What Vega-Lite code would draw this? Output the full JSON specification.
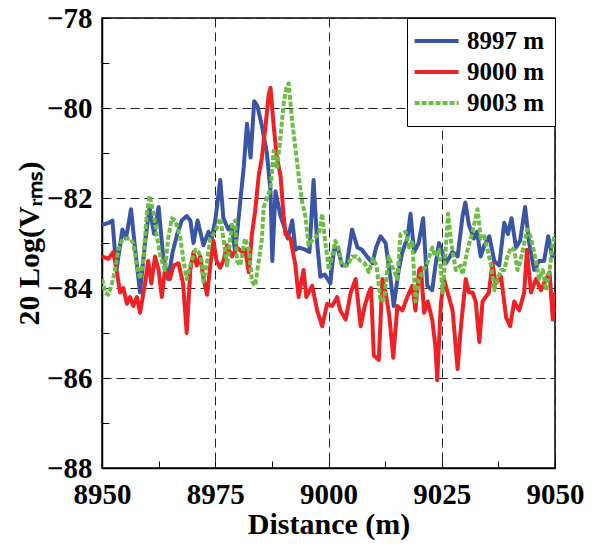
{
  "$schema": "https://vega.github.io/schema/vega-lite/v6.json",
  "width": 453,
  "height": 450,
  "autosize": {"type": "none"},
  "padding": {"left": 102, "top": 18, "right": 51, "bottom": 80},
  "background": "white",
  "config": {
    "font": "Liberation Serif",
    "view": {"stroke": "black", "strokeWidth": 1.5},
    "axis": {
      "labelFont": "Liberation Serif", "labelFontSize": 29, "labelFontWeight": "bold", "labelColor": "black",
      "titleFont": "Liberation Serif", "titleFontSize": 30, "titleFontWeight": "bold", "titleColor": "black",
      "domainColor": "black", "domainWidth": 1.5, "tickColor": "black", "tickWidth": 1, "tickSize": -7,
      "gridColor": "#222", "gridDash": [9, 5], "gridWidth": 1
    },
    "legend": {
      "orient": "top-right", "offset": 0, "title": null, "strokeColor": "black", "fillColor": "white",
      "padding": 10, "labelFont": "Liberation Serif", "labelFontSize": 25, "labelFontWeight": "bold", "labelColor": "black",
      "symbolType": "M-1.4,0H2.6", "symbolSize": 484, "symbolStrokeWidth": 4, "rowPadding": 5, "labelOffset": 24
    }
  },
  "data": {"values": [
    {"s":"8997 m","d":8950,"v":-82.6},{"s":"8997 m","d":8951.5,"v":-82.55},{"s":"8997 m","d":8952.3,"v":-82.5},{"s":"8997 m","d":8953.2,"v":-83.6},{"s":"8997 m","d":8954.5,"v":-82.7},{"s":"8997 m","d":8955.3,"v":-82.9},{"s":"8997 m","d":8956.4,"v":-82.25},{"s":"8997 m","d":8957.5,"v":-83.3},{"s":"8997 m","d":8958.4,"v":-84.1},{"s":"8997 m","d":8959.5,"v":-83.0},{"s":"8997 m","d":8960.5,"v":-82.2},{"s":"8997 m","d":8961.5,"v":-82.8},{"s":"8997 m","d":8962.5,"v":-82.2},{"s":"8997 m","d":8963.5,"v":-83.3},{"s":"8997 m","d":8964.6,"v":-83.8},{"s":"8997 m","d":8965.6,"v":-83.2},{"s":"8997 m","d":8966.6,"v":-82.8},{"s":"8997 m","d":8967.6,"v":-82.5},{"s":"8997 m","d":8968.7,"v":-82.4},{"s":"8997 m","d":8969.5,"v":-82.5},{"s":"8997 m","d":8970.2,"v":-83.0},{"s":"8997 m","d":8971.1,"v":-82.5},{"s":"8997 m","d":8972.4,"v":-83.05},{"s":"8997 m","d":8973.5,"v":-82.75},{"s":"8997 m","d":8974.2,"v":-82.9},{"s":"8997 m","d":8975,"v":-82.5},{"s":"8997 m","d":8976.1,"v":-81.6},{"s":"8997 m","d":8976.8,"v":-82.45},{"s":"8997 m","d":8977.9,"v":-82.7},{"s":"8997 m","d":8978.6,"v":-82.6},{"s":"8997 m","d":8979.4,"v":-83.2},{"s":"8997 m","d":8980.5,"v":-82.1},{"s":"8997 m","d":8981.3,"v":-81.3},{"s":"8997 m","d":8982,"v":-80.35},{"s":"8997 m","d":8982.8,"v":-81.1},{"s":"8997 m","d":8983.6,"v":-79.85},{"s":"8997 m","d":8984.3,"v":-79.95},{"s":"8997 m","d":8985.3,"v":-80.4},{"s":"8997 m","d":8986.4,"v":-81.0},{"s":"8997 m","d":8987.2,"v":-81.85},{"s":"8997 m","d":8987.6,"v":-83.4},{"s":"8997 m","d":8988.3,"v":-81.85},{"s":"8997 m","d":8989.4,"v":-82.4},{"s":"8997 m","d":8990.1,"v":-82.6},{"s":"8997 m","d":8991,"v":-82.9},{"s":"8997 m","d":8992,"v":-82.5},{"s":"8997 m","d":8992.7,"v":-83.15},{"s":"8997 m","d":8993.5,"v":-83.1},{"s":"8997 m","d":8994.9,"v":-83.15},{"s":"8997 m","d":8995.8,"v":-83.2},{"s":"8997 m","d":8996.7,"v":-81.6},{"s":"8997 m","d":8997.5,"v":-83.0},{"s":"8997 m","d":8998.2,"v":-83.75},{"s":"8997 m","d":8999.2,"v":-83.7},{"s":"8997 m","d":9000.4,"v":-83.9},{"s":"8997 m","d":9001.2,"v":-83.15},{"s":"8997 m","d":9002,"v":-83.1},{"s":"8997 m","d":9003,"v":-83.5},{"s":"8997 m","d":9004,"v":-83.5},{"s":"8997 m","d":9005.2,"v":-82.7},{"s":"8997 m","d":9006.4,"v":-83.1},{"s":"8997 m","d":9007.4,"v":-83.15},{"s":"8997 m","d":9008.5,"v":-83.3},{"s":"8997 m","d":9009.7,"v":-83.45},{"s":"8997 m","d":9010.5,"v":-83.1},{"s":"8997 m","d":9011.5,"v":-82.85},{"s":"8997 m","d":9012.6,"v":-83.0},{"s":"8997 m","d":9013.7,"v":-83.8},{"s":"8997 m","d":9014.4,"v":-84.4},{"s":"8997 m","d":9015.5,"v":-83.6},{"s":"8997 m","d":9016.3,"v":-83.2},{"s":"8997 m","d":9017.4,"v":-82.9},{"s":"8997 m","d":9018.1,"v":-82.35},{"s":"8997 m","d":9018.9,"v":-83.2},{"s":"8997 m","d":9019.9,"v":-83.0},{"s":"8997 m","d":9020.9,"v":-82.45},{"s":"8997 m","d":9021.8,"v":-83.95},{"s":"8997 m","d":9022.9,"v":-84.05},{"s":"8997 m","d":9023.6,"v":-83.5},{"s":"8997 m","d":9024.4,"v":-83.0},{"s":"8997 m","d":9025.1,"v":-83.2},{"s":"8997 m","d":9025.9,"v":-83.45},{"s":"8997 m","d":9027.4,"v":-83.2},{"s":"8997 m","d":9028.5,"v":-83.3},{"s":"8997 m","d":9029.6,"v":-82.4},{"s":"8997 m","d":9030.2,"v":-82.1},{"s":"8997 m","d":9031,"v":-82.6},{"s":"8997 m","d":9032.1,"v":-82.9},{"s":"8997 m","d":9032.8,"v":-82.75},{"s":"8997 m","d":9033.6,"v":-83.3},{"s":"8997 m","d":9034.4,"v":-83.05},{"s":"8997 m","d":9035.5,"v":-82.85},{"s":"8997 m","d":9036.6,"v":-83.4},{"s":"8997 m","d":9037.7,"v":-83.5},{"s":"8997 m","d":9038.8,"v":-82.55},{"s":"8997 m","d":9039.6,"v":-82.8},{"s":"8997 m","d":9040.4,"v":-82.45},{"s":"8997 m","d":9041.4,"v":-83.1},{"s":"8997 m","d":9042.3,"v":-82.95},{"s":"8997 m","d":9043.4,"v":-82.2},{"s":"8997 m","d":9044.3,"v":-83.0},{"s":"8997 m","d":9045.4,"v":-83.6},{"s":"8997 m","d":9046.5,"v":-83.4},{"s":"8997 m","d":9047.6,"v":-83.4},{"s":"8997 m","d":9048.5,"v":-82.85},{"s":"8997 m","d":9049.4,"v":-83.3},{"s":"8997 m","d":9050,"v":-83.25},

    {"s":"9000 m","d":8950,"v":-83.3},{"s":"9000 m","d":8951.4,"v":-83.35},{"s":"9000 m","d":8952.5,"v":-83.2},{"s":"9000 m","d":8953.2,"v":-83.6},{"s":"9000 m","d":8954,"v":-84.1},{"s":"9000 m","d":8954.7,"v":-84.0},{"s":"9000 m","d":8955.5,"v":-84.35},{"s":"9000 m","d":8956.2,"v":-84.2},{"s":"9000 m","d":8956.9,"v":-84.4},{"s":"9000 m","d":8957.7,"v":-84.2},{"s":"9000 m","d":8958.4,"v":-84.55},{"s":"9000 m","d":8959.5,"v":-83.9},{"s":"9000 m","d":8960.2,"v":-83.4},{"s":"9000 m","d":8960.9,"v":-83.9},{"s":"9000 m","d":8961.7,"v":-83.3},{"s":"9000 m","d":8962.5,"v":-83.6},{"s":"9000 m","d":8963.2,"v":-84.2},{"s":"9000 m","d":8963.9,"v":-83.6},{"s":"9000 m","d":8965,"v":-83.8},{"s":"9000 m","d":8965.8,"v":-83.5},{"s":"9000 m","d":8966.9,"v":-83.45},{"s":"9000 m","d":8967.9,"v":-83.9},{"s":"9000 m","d":8968.7,"v":-85.0},{"s":"9000 m","d":8969.5,"v":-83.6},{"s":"9000 m","d":8970.2,"v":-83.2},{"s":"9000 m","d":8970.9,"v":-83.5},{"s":"9000 m","d":8971.7,"v":-83.3},{"s":"9000 m","d":8972.4,"v":-83.8},{"s":"9000 m","d":8973.2,"v":-84.15},{"s":"9000 m","d":8973.9,"v":-83.5},{"s":"9000 m","d":8974.6,"v":-82.95},{"s":"9000 m","d":8975.3,"v":-83.4},{"s":"9000 m","d":8976.1,"v":-83.55},{"s":"9000 m","d":8976.8,"v":-83.4},{"s":"9000 m","d":8977.6,"v":-83.05},{"s":"9000 m","d":8978.7,"v":-83.3},{"s":"9000 m","d":8979.8,"v":-83.1},{"s":"9000 m","d":8980.9,"v":-83.2},{"s":"9000 m","d":8981.6,"v":-83.15},{"s":"9000 m","d":8982.4,"v":-83.65},{"s":"9000 m","d":8983.1,"v":-82.8},{"s":"9000 m","d":8983.8,"v":-82.3},{"s":"9000 m","d":8984.6,"v":-81.5},{"s":"9000 m","d":8985.3,"v":-81.1},{"s":"9000 m","d":8986.1,"v":-80.4},{"s":"9000 m","d":8986.8,"v":-79.7},{"s":"9000 m","d":8987.2,"v":-79.55},{"s":"9000 m","d":8987.9,"v":-80.4},{"s":"9000 m","d":8988.6,"v":-81.1},{"s":"9000 m","d":8989.4,"v":-81.5},{"s":"9000 m","d":8990.1,"v":-82.4},{"s":"9000 m","d":8990.5,"v":-82.8},{"s":"9000 m","d":8991.6,"v":-82.9},{"s":"9000 m","d":8992.7,"v":-83.5},{"s":"9000 m","d":8993.4,"v":-84.2},{"s":"9000 m","d":8994.5,"v":-83.6},{"s":"9000 m","d":8995.1,"v":-84.2},{"s":"9000 m","d":8996.4,"v":-83.95},{"s":"9000 m","d":8997.5,"v":-84.5},{"s":"9000 m","d":8998.6,"v":-84.85},{"s":"9000 m","d":8999.7,"v":-84.35},{"s":"9000 m","d":9000.8,"v":-84.4},{"s":"9000 m","d":9001.9,"v":-84.2},{"s":"9000 m","d":9002.6,"v":-84.5},{"s":"9000 m","d":9003.8,"v":-84.7},{"s":"9000 m","d":9004.9,"v":-84.1},{"s":"9000 m","d":9006,"v":-83.8},{"s":"9000 m","d":9007.1,"v":-84.85},{"s":"9000 m","d":9008,"v":-84.4},{"s":"9000 m","d":9008.9,"v":-84.1},{"s":"9000 m","d":9009.4,"v":-84.0},{"s":"9000 m","d":9010,"v":-85.5},{"s":"9000 m","d":9011.1,"v":-85.6},{"s":"9000 m","d":9011.9,"v":-83.8},{"s":"9000 m","d":9012.6,"v":-84.1},{"s":"9000 m","d":9013.4,"v":-84.6},{"s":"9000 m","d":9014.3,"v":-85.55},{"s":"9000 m","d":9015.2,"v":-84.4},{"s":"9000 m","d":9016.3,"v":-84.5},{"s":"9000 m","d":9017.4,"v":-84.2},{"s":"9000 m","d":9018.5,"v":-83.95},{"s":"9000 m","d":9019.2,"v":-84.5},{"s":"9000 m","d":9020,"v":-83.6},{"s":"9000 m","d":9020.4,"v":-83.55},{"s":"9000 m","d":9021.1,"v":-84.55},{"s":"9000 m","d":9021.9,"v":-84.3},{"s":"9000 m","d":9022.9,"v":-84.7},{"s":"9000 m","d":9023.6,"v":-85.3},{"s":"9000 m","d":9024,"v":-86.05},{"s":"9000 m","d":9024.8,"v":-84.35},{"s":"9000 m","d":9025.5,"v":-83.8},{"s":"9000 m","d":9026.3,"v":-84.1},{"s":"9000 m","d":9027.4,"v":-84.5},{"s":"9000 m","d":9028.5,"v":-85.8},{"s":"9000 m","d":9029.2,"v":-84.9},{"s":"9000 m","d":9030.3,"v":-83.8},{"s":"9000 m","d":9031,"v":-84.1},{"s":"9000 m","d":9031.8,"v":-84.1},{"s":"9000 m","d":9032.5,"v":-84.3},{"s":"9000 m","d":9033.3,"v":-85.2},{"s":"9000 m","d":9034,"v":-84.3},{"s":"9000 m","d":9034.7,"v":-84.2},{"s":"9000 m","d":9035.4,"v":-84.1},{"s":"9000 m","d":9036.2,"v":-83.45},{"s":"9000 m","d":9036.9,"v":-83.9},{"s":"9000 m","d":9038.1,"v":-83.75},{"s":"9000 m","d":9039.2,"v":-84.65},{"s":"9000 m","d":9040.1,"v":-84.85},{"s":"9000 m","d":9041,"v":-84.3},{"s":"9000 m","d":9042.1,"v":-84.5},{"s":"9000 m","d":9043.2,"v":-84.1},{"s":"9000 m","d":9043.8,"v":-83.15},{"s":"9000 m","d":9044.7,"v":-84.1},{"s":"9000 m","d":9045.8,"v":-83.8},{"s":"9000 m","d":9046.9,"v":-84.05},{"s":"9000 m","d":9048,"v":-83.8},{"s":"9000 m","d":9048.8,"v":-83.65},{"s":"9000 m","d":9049.5,"v":-84.7},{"s":"9000 m","d":9050,"v":-84.1},

    {"s":"9003 m","d":8950,"v":-83.8},{"s":"9003 m","d":8950.7,"v":-84.1},{"s":"9003 m","d":8951.4,"v":-84.15},{"s":"9003 m","d":8952.2,"v":-83.9},{"s":"9003 m","d":8952.9,"v":-83.6},{"s":"9003 m","d":8953.6,"v":-83.15},{"s":"9003 m","d":8954.4,"v":-82.95},{"s":"9003 m","d":8955.1,"v":-82.9},{"s":"9003 m","d":8956.2,"v":-82.9},{"s":"9003 m","d":8956.9,"v":-83.0},{"s":"9003 m","d":8957.7,"v":-83.5},{"s":"9003 m","d":8958.4,"v":-83.8},{"s":"9003 m","d":8959.1,"v":-83.4},{"s":"9003 m","d":8959.9,"v":-82.35},{"s":"9003 m","d":8960.5,"v":-81.95},{"s":"9003 m","d":8961.4,"v":-82.35},{"s":"9003 m","d":8962.1,"v":-82.85},{"s":"9003 m","d":8962.9,"v":-83.3},{"s":"9003 m","d":8963.9,"v":-83.6},{"s":"9003 m","d":8964.6,"v":-82.9},{"s":"9003 m","d":8965.4,"v":-82.45},{"s":"9003 m","d":8966.2,"v":-82.5},{"s":"9003 m","d":8967.3,"v":-82.9},{"s":"9003 m","d":8968,"v":-83.4},{"s":"9003 m","d":8968.7,"v":-83.8},{"s":"9003 m","d":8969.5,"v":-83.5},{"s":"9003 m","d":8970.6,"v":-83.15},{"s":"9003 m","d":8971.3,"v":-83.2},{"s":"9003 m","d":8972,"v":-83.4},{"s":"9003 m","d":8972.4,"v":-83.85},{"s":"9003 m","d":8973.2,"v":-83.4},{"s":"9003 m","d":8973.9,"v":-82.9},{"s":"9003 m","d":8975,"v":-82.75},{"s":"9003 m","d":8976.1,"v":-82.45},{"s":"9003 m","d":8976.8,"v":-82.9},{"s":"9003 m","d":8977.6,"v":-83.5},{"s":"9003 m","d":8978.7,"v":-82.6},{"s":"9003 m","d":8979.4,"v":-82.5},{"s":"9003 m","d":8979.8,"v":-83.4},{"s":"9003 m","d":8980.5,"v":-83.5},{"s":"9003 m","d":8981.6,"v":-82.9},{"s":"9003 m","d":8982.4,"v":-83.15},{"s":"9003 m","d":8983.1,"v":-83.85},{"s":"9003 m","d":8983.8,"v":-83.95},{"s":"9003 m","d":8984.6,"v":-83.4},{"s":"9003 m","d":8985.3,"v":-82.9},{"s":"9003 m","d":8985.7,"v":-82.2},{"s":"9003 m","d":8986.4,"v":-82.0},{"s":"9003 m","d":8987.2,"v":-81.8},{"s":"9003 m","d":8987.9,"v":-80.95},{"s":"9003 m","d":8988.6,"v":-81.35},{"s":"9003 m","d":8989.4,"v":-80.65},{"s":"9003 m","d":8990.1,"v":-79.9},{"s":"9003 m","d":8990.7,"v":-79.55},{"s":"9003 m","d":8991.2,"v":-79.45},{"s":"9003 m","d":8992,"v":-80.3},{"s":"9003 m","d":8992.7,"v":-80.9},{"s":"9003 m","d":8993.4,"v":-81.5},{"s":"9003 m","d":8994.2,"v":-82.1},{"s":"9003 m","d":8994.9,"v":-82.4},{"s":"9003 m","d":8995.6,"v":-83.05},{"s":"9003 m","d":8996.7,"v":-82.9},{"s":"9003 m","d":8997.9,"v":-82.8},{"s":"9003 m","d":8998.6,"v":-82.35},{"s":"9003 m","d":8999.3,"v":-83.0},{"s":"9003 m","d":9000.1,"v":-83.6},{"s":"9003 m","d":9000.8,"v":-83.3},{"s":"9003 m","d":9001.5,"v":-82.95},{"s":"9003 m","d":9002.2,"v":-83.1},{"s":"9003 m","d":9003,"v":-83.5},{"s":"9003 m","d":9004.1,"v":-83.5},{"s":"9003 m","d":9005.2,"v":-83.3},{"s":"9003 m","d":9006.2,"v":-83.3},{"s":"9003 m","d":9007.1,"v":-83.4},{"s":"9003 m","d":9008,"v":-83.45},{"s":"9003 m","d":9008.9,"v":-83.65},{"s":"9003 m","d":9009.8,"v":-83.35},{"s":"9003 m","d":9010.6,"v":-83.5},{"s":"9003 m","d":9011.5,"v":-84.3},{"s":"9003 m","d":9012.3,"v":-84.25},{"s":"9003 m","d":9013.3,"v":-83.3},{"s":"9003 m","d":9014.4,"v":-83.6},{"s":"9003 m","d":9015.2,"v":-83.8},{"s":"9003 m","d":9015.9,"v":-82.8},{"s":"9003 m","d":9017,"v":-82.75},{"s":"9003 m","d":9017.8,"v":-83.1},{"s":"9003 m","d":9018.5,"v":-82.95},{"s":"9003 m","d":9019.2,"v":-84.3},{"s":"9003 m","d":9020,"v":-83.8},{"s":"9003 m","d":9020.7,"v":-83.65},{"s":"9003 m","d":9021.8,"v":-83.45},{"s":"9003 m","d":9022.9,"v":-83.1},{"s":"9003 m","d":9023.6,"v":-83.3},{"s":"9003 m","d":9024.4,"v":-83.15},{"s":"9003 m","d":9025.2,"v":-84.1},{"s":"9003 m","d":9025.9,"v":-83.1},{"s":"9003 m","d":9026.4,"v":-82.35},{"s":"9003 m","d":9027.1,"v":-83.0},{"s":"9003 m","d":9028.1,"v":-83.6},{"s":"9003 m","d":9029.2,"v":-83.5},{"s":"9003 m","d":9029.6,"v":-83.7},{"s":"9003 m","d":9030.7,"v":-83.15},{"s":"9003 m","d":9031.8,"v":-82.75},{"s":"9003 m","d":9032.9,"v":-82.25},{"s":"9003 m","d":9033.6,"v":-82.9},{"s":"9003 m","d":9034.4,"v":-82.85},{"s":"9003 m","d":9035.1,"v":-83.15},{"s":"9003 m","d":9035.9,"v":-83.5},{"s":"9003 m","d":9036.6,"v":-84.05},{"s":"9003 m","d":9037.3,"v":-83.8},{"s":"9003 m","d":9038.1,"v":-83.6},{"s":"9003 m","d":9038.8,"v":-83.6},{"s":"9003 m","d":9039.5,"v":-83.3},{"s":"9003 m","d":9040.3,"v":-83.1},{"s":"9003 m","d":9041,"v":-83.15},{"s":"9003 m","d":9041.7,"v":-83.6},{"s":"9003 m","d":9042.4,"v":-83.4},{"s":"9003 m","d":9043.2,"v":-83.0},{"s":"9003 m","d":9043.9,"v":-82.7},{"s":"9003 m","d":9044.6,"v":-82.85},{"s":"9003 m","d":9045.4,"v":-83.2},{"s":"9003 m","d":9046.5,"v":-83.8},{"s":"9003 m","d":9047.3,"v":-83.6},{"s":"9003 m","d":9048,"v":-84.05},{"s":"9003 m","d":9048.8,"v":-83.6},{"s":"9003 m","d":9049.5,"v":-83.0},{"s":"9003 m","d":9050,"v":-82.8}
  ]},
  "mark": {"type": "line", "strokeWidth": 4, "strokeCap": "butt", "strokeJoin": "round", "clip": true},
  "encoding": {
    "x": {
      "field": "d", "type": "quantitative",
      "scale": {"domain": [8950, 9050], "nice": false, "zero": false},
      "axis": {
        "title": "Distance (m)",
        "values": [8950, 8962.5, 8975, 8987.5, 9000, 9012.5, 9025, 9037.5, 9050],
        "format": "d",
        "labelExpr": "datum.value % 25 === 0 ? datum.label : ''",
        "labelPadding": 19,
        "labelFlush": false,
        "titlePadding": 0,
        "gridOpacity": {"condition": {"test": "datum.value % 25 === 0", "value": 1}, "value": 0}
      }
    },
    "y": {
      "field": "v", "type": "quantitative",
      "scale": {"domain": [-88, -78], "nice": false, "zero": false},
      "axis": {
        "title": "20 Log(Vᵣₘₛ)",
        "values": [-88, -87, -86, -85, -84, -83, -82, -81, -80, -79, -78],
        "format": "d",
        "labelExpr": "datum.value % 2 === 0 ? datum.label : ''",
        "labelPadding": 17,
        "labelFlush": false,
        "titlePadding": 2,
        "gridOpacity": {"condition": {"test": "datum.value % 2 === 0", "value": 1}, "value": 0}
      }
    },
    "color": {
      "field": "s", "type": "nominal",
      "scale": {"domain": ["8997 m", "9000 m", "9003 m"], "range": ["#3A55A4", "#EE2226", "#6CBD45"]},
      "legend": {"labelFont": "Liberation Serif", "labelFontWeight": "bold", "labelFontSize": 25}
    },
    "strokeDash": {
      "field": "s", "type": "nominal",
      "scale": {"domain": ["8997 m", "9000 m", "9003 m"], "range": [[1, 0], [1, 0], [5, 2]]},
      "legend": {"labelFont": "Liberation Serif", "labelFontWeight": "bold", "labelFontSize": 25}
    }
  }
}
